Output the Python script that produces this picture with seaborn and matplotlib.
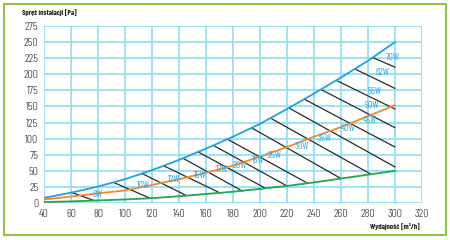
import matplotlib
matplotlib.use("Agg")
import matplotlib.pyplot as plt
import seaborn as sns
import pandas as pd
from matplotlib.patches import Rectangle

# ---- data ----
flow = [40, 60, 80, 100, 120, 140, 160, 180, 200, 220, 240, 260, 280, 300]
upper_blue = [8, 16, 25.5, 37, 51, 67, 84.5, 103, 123, 146, 170, 195, 221, 250]
mid_orange = [5.5, 10, 15, 19.5, 28, 37, 47, 58, 72, 87, 103, 118, 135, 152]
lower_green = [1.5, 2.5, 4, 5.5, 7.5, 10.5, 14, 17.5, 22, 26.5, 32, 38, 44, 50]

hatch_x0 = [60.5, 91.5, 112.5, 128.5, 143, 154, 165.5, 176, 194, 208.5, 222, 233, 245.5, 257, 270.5, 284]
hatch_y0 = [16.4, 32, 46, 58, 69.5, 79.5, 89.5, 99, 116.5, 131, 147, 161, 176, 190, 208, 225.5]
hatch_x1 = [77, 118.5, 145.5, 170.5, 187, 204, 220, 235, 260, 282, 300, 300, 300, 300, 300, 300]
hatch_y1 = [4, 7.5, 11.5, 15.5, 18.5, 23, 26.5, 31, 38, 45, 56, 87, 117, 146, 178, 211]

w_labels = ['8W', '10W', '12W', '15W', '17W', '20W', '15W', '25W', '30W', '35W',
            '40W', '45W', '50W', '55W', '62W', '70W']
label_x = [80, 113.5, 136, 155.5, 171.5, 185, 198.5, 211, 231, 248, 265.5, 281.5, 283, 285, 291, 298.5]
label_y = [12.5, 26.5, 36, 43.5, 52, 59, 66, 74.5, 87.5, 100.5, 116, 128, 151, 173, 202, 226.5]

x_ticks = list(range(40, 321, 20))
y_ticks = list(range(0, 276, 25))

# ---- styling ----
sns.set_theme(style="white")
plt.rcParams['font.family'] = ['Barlow Condensed', 'DejaVu Sans']

grid_c = '#8fdcf5'
blue_c = '#1ea3dc'
orange_c = '#f5862a'
green_c = '#1fa84f'
label_c = '#29abe2'

fig = plt.figure(figsize=(4.5, 2.4), dpi=100)
ax = fig.add_axes([44 / 450, 1 - 203 / 240, (422 - 44) / 450, (203 - 26) / 240])

curves = pd.DataFrame({
    'flow': flow * 3,
    'pa': upper_blue + mid_orange + lower_green,
    'curve': ['blue'] * len(flow) + ['orange'] * len(flow) + ['green'] * len(flow),
})

hatch = pd.DataFrame({
    'flow': hatch_x0 + hatch_x1,
    'pa': hatch_y0 + hatch_y1,
    'line': list(range(len(hatch_x0))) * 2,
})

sns.lineplot(data=hatch, x='flow', y='pa', units='line', estimator=None,
             color='#2b2b2b', linewidth=0.9, ax=ax, legend=False, sort=False)
sns.lineplot(data=curves, x='flow', y='pa', hue='curve',
             palette={'blue': blue_c, 'orange': orange_c, 'green': green_c},
             linewidth=1.3, ax=ax, legend=False, estimator=None)

for t, x, y in zip(w_labels, label_x, label_y):
    ax.text(x, y, t, color=label_c, fontsize=7, fontweight=400, ha='center', va='center')

ax.set_xlim(40, 320)
ax.set_ylim(0, 275)
ax.set_xticks(x_ticks)
ax.set_yticks(y_ticks)
ax.grid(True, color=grid_c, linewidth=1.2)
ax.set_axisbelow(True)
for s in ax.spines.values():
    s.set_visible(False)
ax.tick_params(axis='both', length=0, labelsize=8.5, colors='#333333', pad=4)
for lab in ax.get_xticklabels() + ax.get_yticklabels():
    lab.set_fontweight(300)
ax.set_xlabel('')
ax.set_ylabel('')

fig.text(22 / 450, 1 - 13 / 240, 'Spręż instalacji [Pa]', fontsize=5.4, fontweight='bold',
         ha='left', va='center', color='#222222')
fig.text(420 / 450, 1 - 226 / 240, 'Wydajność [m³/h]', fontsize=5.4, fontweight='bold',
         ha='right', va='center', color='#222222')

fig.patches.append(Rectangle((4 / 450, 1 - 235 / 240), 442 / 450, 231 / 240,
                             transform=fig.transFigure, fill=False,
                             edgecolor='#8cc63f', linewidth=1.5))

fig.savefig('out.png', dpi=100)
